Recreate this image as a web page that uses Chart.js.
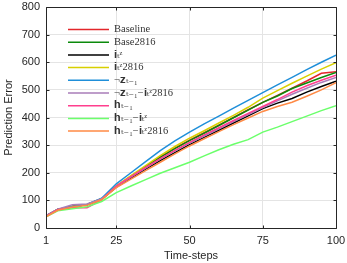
<!DOCTYPE html>
<html>
<head>
<meta charset="utf-8">
<script src="https://cdn.jsdelivr.net/npm/chart.js@4/dist/chart.umd.min.js"></script>
<style>
html,body{margin:0;padding:0;background:#fff;}
#wrap{width:347px;height:263px;position:relative;}
</style>
</head>
<body>
<div id="wrap"><canvas id="c" width="347" height="263"></canvas></div>
<script>
const steps = [1,5,10,15,20,25,30,35,40,45,50,55,60,65,70,75,80,85,90,95,100];
const xTicks = [1,25,50,75,100];
const seriesNames = ["Baseline","Base2816","𝐢ₜᶻ","𝐢ₜᶻ2816","¬𝐳ₜ₋₁","¬𝐳ₜ₋₁−𝐢ₜᶻ2816","𝐡ₜ₋₁","𝐡ₜ₋₁−𝐢ₜᶻ","𝐡ₜ₋₁−𝐢ₜᶻ2816"];
const baseline   = [44,67,78,84,105,150,186,222,257,289,318,345,372,400,428,455,480,506,532,560,566];
const base2816   = [44,67,78,85,106,151,187,222,256,287,316,343,371,399,427,455,478,505,525,545,563];
const iz         = [43,67,78,84,104,148,181,213,244,273,302,328,354,380,406,432,452,469,492,512,531];
const iz2816     = [44,67,78,85,106,153,190,226,262,295,325,352,380,408,437,470,497,524,550,575,598];
const notZ       = [44,67,77,85,108,160,200,240,280,315,347,377,405,434,462,490,518,545,573,600,626];
const notZiz2816 = [45,68,84,87,106,150,184,217,249,279,307,333,359,385,411,436,460,484,506,527,545];
const hPrev      = [42,66,73,73,102,152,186,219,251,281,310,337,363,389,415,440,465,492,515,535,553];
const hPrevIz    = [40,62,70,77,96,128,152,175,198,218,238,261,283,303,320,347,365,385,405,425,443];
const hPrevIz2816= [40,64,76,82,103,146,177,208,238,268,297,323,349,374,398,422,440,455,477,500,526];
const seriesValues = [baseline,base2816,iz,iz2816,notZ,notZiz2816,hPrev,hPrevIz,hPrevIz2816];
const colors = ["#e3262b","#0b8a0b","#000000","#d8d000","#1f8fd9","#a97db9","#ff3f8e","#6bff6b","#ff8a45"];

const datasets = seriesValues.map((vals,i)=>({
  label: seriesNames[i],
  data: vals.map((v,j)=>({x:steps[j], y:v})),
  borderColor: colors[i],
  backgroundColor: colors[i],
  borderWidth: 1.5,
  pointRadius: 0,
  tension: 0,
  fill: false,
  order: seriesValues.length - i
}));

const boxPlugin = {
  id:'box',
  afterDraw(chart){
    const {ctx, chartArea:a, scales} = chart;
    ctx.save();
    ctx.strokeStyle = '#262626';
    ctx.lineWidth = 1;
    ctx.beginPath();
    const L=Math.round(a.left)+0.5, R=Math.round(a.right)+0.5, T=Math.round(a.top)+0.5, B=Math.round(a.bottom)+0.5;
    ctx.rect(L,T,R-L,B-T);
    scales.y.ticks.forEach(t=>{
      const y = Math.round(scales.y.getPixelForValue(t.value))+0.5;
      ctx.moveTo(L,y); ctx.lineTo(L+3,y);
      ctx.moveTo(R,y); ctx.lineTo(R-3,y);
    });
    scales.x.ticks.forEach(t=>{
      const x = Math.round(scales.x.getPixelForValue(t.value))+0.5;
      ctx.moveTo(x,B); ctx.lineTo(x,B-3);
      ctx.moveTo(x,T); ctx.lineTo(x,T+3);
    });
    ctx.stroke();
    ctx.restore();
  }
};

const legendPlugin = {
  id:'innerLegend',
  afterDatasetsDraw(chart){
    const ctx = chart.ctx;
    ctx.save();
    chart.data.datasets.forEach((ds,i)=>{
      const y = 29.5 + i*12.7;
      ctx.strokeStyle = ds.borderColor;
      ctx.lineWidth = 1.5;
      ctx.beginPath();
      ctx.moveTo(68,y); ctx.lineTo(109,y);
      ctx.stroke();
      ctx.fillStyle = '#333';
      ctx.font = '10.5px "Liberation Serif", "DejaVu Serif", serif';
      ctx.textBaseline = 'middle';
      ctx.textAlign = 'left';
      ctx.fillText(ds.label, 114, y);
    });
    ctx.restore();
  }
};

function noPad(scale){
  scale.paddingTop = 0; scale.paddingBottom = 0; scale.paddingLeft = 0; scale.paddingRight = 0;
}

new Chart(document.getElementById('c'), {
  type:'line',
  data:{datasets},
  options:{
    responsive:false,
    animation:false,
    events:[],
    layout:{padding:{top:7,right:11,left:0,bottom:0}},
    plugins:{legend:{display:false},tooltip:{enabled:false}},
    scales:{
      x:{
        type:'linear', min:1, max:100,
        afterBuildTicks(scale){ scale.ticks = xTicks.map(v=>({value:v})); },
        afterFit(scale){ scale.height = 35; noPad(scale); },
        grid:{color:'#e4e4e4', drawTicks:false},
        border:{display:false},
        ticks:{color:'#262626', font:{family:'"Liberation Sans", Arial, sans-serif', size:11}, padding:6, maxRotation:0, autoSkip:false},
        title:{display:true, text:'Time-steps', color:'#262626', font:{family:'"Liberation Sans", Arial, sans-serif', size:11}, padding:{top:1,bottom:0}}
      },
      y:{
        min:0, max:800,
        afterFit(scale){ scale.width = 46; noPad(scale); },
        grid:{color:'#e4e4e4', drawTicks:false},
        border:{display:false},
        ticks:{stepSize:100, color:'#262626', font:{family:'"Liberation Sans", Arial, sans-serif', size:11}, padding:6},
        title:{display:true, text:'Prediction Error', color:'#262626', font:{family:'"Liberation Sans", Arial, sans-serif', size:11}, padding:{top:2,bottom:0}}
      }
    }
  },
  plugins:[boxPlugin, legendPlugin]
});
</script>
</body>
</html>
